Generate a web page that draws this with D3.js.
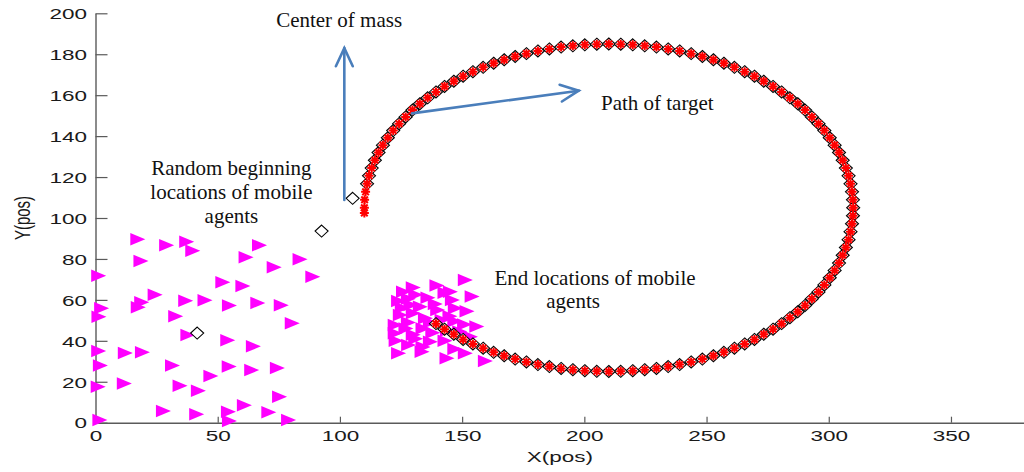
<!DOCTYPE html>
<html>
<head>
<meta charset="utf-8">
<script src="https://cdn.jsdelivr.net/npm/d3@7"></script>
<style>
  html, body { margin: 0; padding: 0; background: #fff; overflow: hidden; }
  svg { display: block; }
</style>
</head>
<body>
<svg id="chart" width="1024" height="472"></svg>
<script>
// ---- tick labels ----
const xTickValues = [0, 50, 100, 150, 200, 250, 300, 350];
const yTickValues = [0, 20, 40, 60, 80, 100, 120, 140, 160, 180, 200];

// ---- random beginning locations of the mobile agents ----
const startX = [17.3, 29.1, 37.3, 39.8, 18.6, 67.1, 61.6, 83.7, 73.1, 88.9,
                1.3, 52.1, 60.3, 24.4, 18.9, 17.5, 2.5, 1.4, 36.9, 44.8,
                54.8, 66.4, 76.0, 32.8, 80.5, 37.8, 54.1, 64.6, 1.3, 12.2,
                19.2, 2.0, 31.5, 54.7, 63.9, 74.4, 47.2, 11.8, 1.1, 34.6,
                42.1, 75.3, 27.8, 41.4, 54.4, 60.9, 70.9, 54.8, 79.0, 1.8];
const startY = [89.6, 86.7, 88.4, 84.0, 79.0, 86.7, 80.8, 79.8, 75.9, 71.3,
                71.8, 68.6, 66.8, 62.5, 58.8, 56.4, 55.9, 51.8, 59.6, 59.8,
                57.2, 58.5, 57.4, 52.0, 48.6, 42.8, 40.3, 37.3, 35.0, 34.1,
                34.4, 28.0, 28.0, 27.4, 25.7, 26.7, 22.8, 19.2, 17.6, 18.1,
                15.6, 12.7, 5.7, 4.1, 5.4, 8.5, 5.1, 0.8, 1.3, 1.3];

// ---- end locations of the mobile agents ----
const endX = [151.3, 130.0, 131.0, 139.7, 143.0, 145.2, 154.1, 128.0, 136.0, 146.0,
              124.0, 132.9, 139.0, 147.2, 152.0, 125.5, 124.7, 130.0, 135.0, 141.8,
              147.0, 151.0, 128.0, 122.6, 127.0, 134.0, 144.0, 153.4, 149.0, 122.6,
              130.0, 138.0, 128.1, 137.0, 134.0, 143.0, 124.0, 133.6, 143.8, 151.3,
              159.5, 147.0, 126.0, 140.0, 156.0, 131.0, 145.0, 129.0, 137.0, 123.0];
const endY = [69.7, 66.0, 62.5, 67.0, 63.5, 64.0, 61.6, 60.5, 61.0, 60.0,
              59.5, 56.7, 58.0, 55.9, 54.5, 56.0, 52.6, 53.5, 51.0, 50.2,
              49.5, 48.0, 49.0, 47.7, 46.0, 46.0, 45.0, 42.0, 44.5, 43.7,
              43.0, 44.0, 38.0, 39.5, 37.0, 40.0, 33.9, 34.7, 31.5, 33.9,
              30.1, 36.0, 64.0, 55.0, 47.0, 41.0, 52.0, 57.5, 49.0, 40.0];

// ---- path of the target ----
const pathX = [110.0, 110.1, 110.5, 111.1, 111.9, 113.0, 114.3, 115.8, 117.6, 119.6,
               121.8, 124.2, 126.9, 129.7, 132.7, 135.9, 139.3, 142.8, 146.6, 150.4,
               154.4, 158.6, 162.9, 167.2, 171.7, 176.3, 181.0, 185.7, 190.5, 195.3,
               200.2, 205.1, 210.0, 214.9, 219.8, 224.7, 229.5, 234.3, 239.0, 243.7,
               248.3, 252.8, 257.1, 261.4, 265.6, 269.6, 273.4, 277.2, 280.7, 284.1,
               287.3, 290.3, 293.1, 295.8, 298.2, 300.4, 302.4, 304.2, 305.7, 307.0,
               308.1, 308.9, 309.5, 309.9, 310.0, 309.9, 309.5, 308.9, 308.1, 307.0,
               305.7, 304.2, 302.4, 300.4, 298.2, 295.8, 293.1, 290.3, 287.3, 284.1,
               280.7, 277.2, 273.4, 269.6, 265.6, 261.4, 257.1, 252.8, 248.3, 243.7,
               239.0, 234.3, 229.5, 224.7, 219.8, 214.9, 210.0, 205.1, 200.2, 195.3,
               190.5, 185.7, 181.0, 176.3, 171.7, 167.2, 162.9, 158.6, 154.4, 150.4,
               146.6, 142.8, 139.3];
const pathY = [105.0, 108.9, 112.8, 116.7, 120.6, 124.4, 128.2, 132.0, 135.6, 139.2,
               142.7, 146.1, 149.4, 152.7, 155.8, 158.7, 161.6, 164.3, 166.8, 169.3,
               171.5, 173.6, 175.6, 177.3, 178.9, 180.3, 181.6, 182.6, 183.5, 184.1,
               184.6, 184.9, 185.0, 184.9, 184.6, 184.1, 183.5, 182.6, 181.6, 180.3,
               178.9, 177.3, 175.6, 173.6, 171.5, 169.3, 166.8, 164.3, 161.6, 158.7,
               155.8, 152.7, 149.4, 146.1, 142.7, 139.2, 135.6, 132.0, 128.2, 124.4,
               120.6, 116.7, 112.8, 108.9, 105.0, 101.1, 97.2, 93.3, 89.4, 85.6,
               81.8, 78.0, 74.4, 70.8, 67.3, 63.9, 60.6, 57.3, 54.2, 51.3,
               48.4, 45.7, 43.2, 40.7, 38.5, 36.4, 34.4, 32.7, 31.1, 29.7,
               28.4, 27.4, 26.5, 25.9, 25.4, 25.1, 25.0, 25.1, 25.4, 25.9,
               26.5, 27.4, 28.4, 29.7, 31.1, 32.7, 34.4, 36.4, 38.5, 40.7,
               43.2, 45.7, 48.4];
// target wobble at the very start
const targetExtraX = [110.0];
const targetExtraY = [102.5];

// ---- centre of mass: early positions before it reaches the target ----
const massLeadX = [41.6, 92.5, 105.2];
const massLeadY = [43.8, 93.6, 109.6];
const massJoinIndex = 3;

// ---- annotations ----
const labelLines = [
  { text: "Center of mass", x: 73.9, y: 193.3, anchor: "start" },
  { text: "Path of target", x: 206.8, y: 152.8, anchor: "start" },
  { text: "Random beginning", x: 55.6, y: 121.0, anchor: "middle" },
  { text: "locations of mobile", x: 55.6, y: 109.1, anchor: "middle" },
  { text: "agents", x: 55.6, y: 97.7, anchor: "middle" },
  { text: "End locations of mobile", x: 163.2, y: 67.2, anchor: "start" },
  { text: "agents", x: 195.4, y: 55.8, anchor: "middle" }
];
const arrowFromX = [101.8, 129.5];
const arrowFromY = [108.8, 151.1];
const arrowToX = [101.8, 197.7];
const arrowToY = [183.0, 162.2];

// ---- layout ----
const W = 1024, H = 472;
const x = d3.scaleLinear().domain([0, 380]).range([95.5, 1024.3]);
const y = d3.scaleLinear().domain([0, 200]).range([422.7, 13.3]);
const axisColor = "#5a5a5a";
const stretch = 1.5;   // wide tick lettering

const svg = d3.select("#chart");
svg.append("rect").attr("width", W).attr("height", H).attr("fill", "#fff");

// x axis
const gx = svg.append("g")
  .attr("transform", `translate(0,${y(0)})`)
  .call(d3.axisBottom(x).tickValues(xTickValues).tickSizeInner(-6).tickSizeOuter(0).tickFormat(d3.format("d")));
gx.select(".domain").attr("stroke", axisColor).attr("stroke-width", 1.4);
gx.selectAll(".tick line").attr("stroke", axisColor).attr("stroke-width", 1.2);
gx.selectAll(".tick text")
  .attr("y", 18.8).attr("dy", 0)
  .attr("transform", `scale(${stretch},1)`)
  .attr("fill", "#1a1a1a")
  .style("font-family", "'Liberation Sans', Arial, sans-serif")
  .style("font-size", "15px");

// y axis
const gy = svg.append("g")
  .attr("transform", `translate(${x(0)},0)`)
  .call(d3.axisLeft(y).tickValues(yTickValues).tickSizeInner(-12).tickSizeOuter(0).tickFormat(d3.format("d")));
gy.select(".domain").attr("stroke", axisColor).attr("stroke-width", 1.4);
gy.selectAll(".tick line").attr("stroke", axisColor).attr("stroke-width", 1.2);
gy.selectAll(".tick text")
  .attr("x", -8.5 / stretch).attr("dy", "0.35em")
  .attr("transform", `scale(${stretch},1)`)
  .attr("fill", "#1a1a1a")
  .style("font-family", "'Liberation Sans', Arial, sans-serif")
  .style("font-size", "15px");

// axis titles
svg.append("text")
  .attr("transform", `translate(${(x.range()[0] + x.range()[1]) / 2},462) scale(${stretch},1)`)
  .attr("text-anchor", "middle")
  .attr("fill", "#1a1a1a")
  .style("font-family", "'Liberation Sans', Arial, sans-serif")
  .style("font-size", "15px")
  .text("X(pos)");
svg.append("text")
  .attr("transform", `translate(29.5,${(y.range()[0] + y.range()[1]) / 2}) scale(${stretch},1) rotate(-90)`)
  .attr("text-anchor", "middle")
  .attr("fill", "#1a1a1a")
  .style("font-family", "'Liberation Sans', Arial, sans-serif")
  .style("font-size", "15px")
  .text("Y(pos)");

// marker shapes
const triW = 15, triH = 12.5;
const triPath = `M${-triW / 2},${-triH / 2}L${triW / 2},0L${-triW / 2},${triH / 2}Z`;
const diaW = 13, diaH = 12;
const diaPath = `M0,${-diaH / 2}L${diaW / 2},0L0,${diaH / 2}L${-diaW / 2},0Z`;
const sr = 4.5, sd = 3.3;
const starPath = `M${-sr},0L${sr},0M0,${-sr}L0,${sr}M${-sd},${-sd}L${sd},${sd}M${-sd},${sd}L${sd},${-sd}`;

// beginning agents
svg.append("g").selectAll("path")
  .data(d3.range(startX.length))
  .join("path")
  .attr("d", triPath)
  .attr("transform", i => `translate(${x(startX[i])},${y(startY[i])})`)
  .attr("fill", "#ff00ff");

// end agents
svg.append("g").selectAll("path")
  .data(d3.range(endX.length))
  .join("path")
  .attr("d", triPath)
  .attr("transform", i => `translate(${x(endX[i])},${y(endY[i])})`)
  .attr("fill", "#ff00ff");

// centre of mass track
const massX = massLeadX.concat(pathX.slice(massJoinIndex));
const massY = massLeadY.concat(pathY.slice(massJoinIndex));
svg.append("g").selectAll("path")
  .data(d3.range(massX.length))
  .join("path")
  .attr("d", diaPath)
  .attr("transform", i => `translate(${x(massX[i])},${y(massY[i])})`)
  .attr("fill", "#fff")
  .attr("stroke", "#000")
  .attr("stroke-width", 1.1);

// target path (red stars)
const tX = targetExtraX.concat(pathX);
const tY = targetExtraY.concat(pathY);
svg.append("g").selectAll("path")
  .data(d3.range(tX.length))
  .join("path")
  .attr("d", starPath)
  .attr("transform", i => `translate(${x(tX[i])},${y(tY[i])})`)
  .attr("fill", "none")
  .attr("stroke", "#ff0000")
  .attr("stroke-width", 2);

// annotation arrows
const arrowColor = "#4a7ebb";
const ag = svg.append("g").attr("stroke", arrowColor).attr("stroke-width", 2.6)
  .attr("fill", "none").attr("stroke-linecap", "round");
arrowFromX.forEach((_, i) => {
  const x0 = x(arrowFromX[i]), y0 = y(arrowFromY[i]);
  const x1 = x(arrowToX[i]), y1 = y(arrowToY[i]);
  const ang = Math.atan2(y1 - y0, x1 - x0);
  const L = 20, spread = 25 * Math.PI / 180;
  const w1 = [x1 - L * Math.cos(ang - spread), y1 - L * Math.sin(ang - spread)];
  const w2 = [x1 - L * Math.cos(ang + spread), y1 - L * Math.sin(ang + spread)];
  ag.append("path").attr("d", `M${x0},${y0}L${x1},${y1}`);
  ag.append("path").attr("d", `M${w1[0]},${w1[1]}L${x1},${y1}L${w2[0]},${w2[1]}`);
});

// annotation text
svg.append("g").selectAll("text")
  .data(labelLines)
  .join("text")
  .attr("x", d => x(d.x))
  .attr("y", d => y(d.y))
  .attr("text-anchor", d => d.anchor)
  .attr("fill", "#111")
  .style("font-family", "'Liberation Serif', 'Times New Roman', serif")
  .style("font-size", "21px")
  .text(d => d.text);
</script>
</body>
</html>
